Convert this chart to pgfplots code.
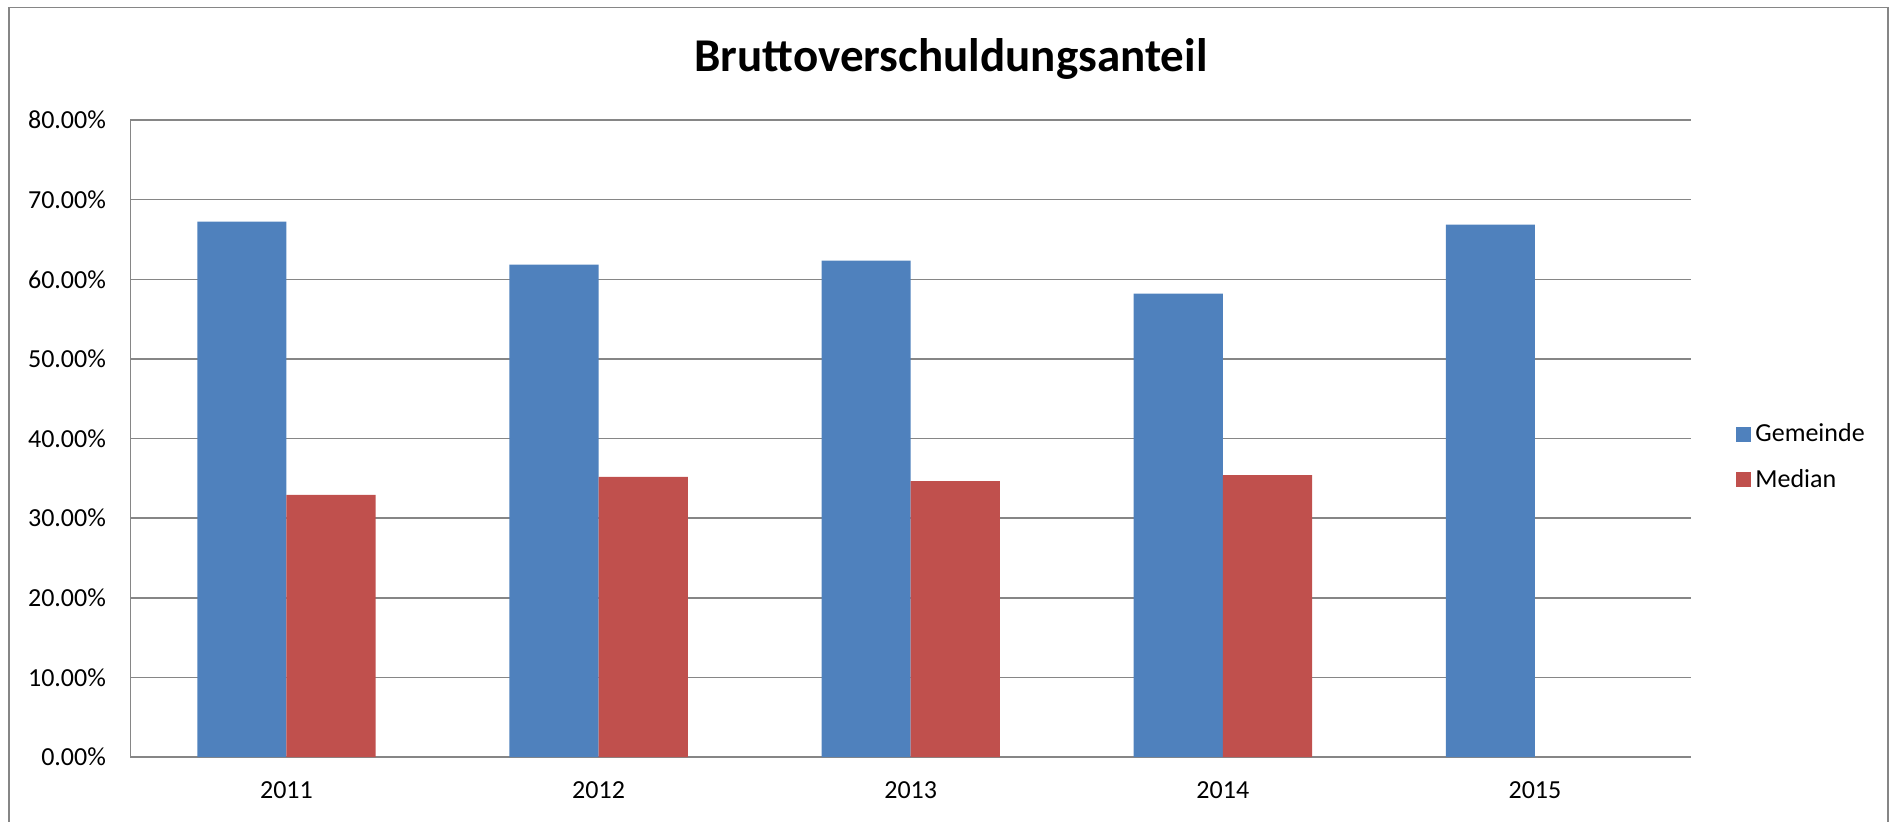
\documentclass[border=0pt]{standalone}
\usepackage{pgfplots}
\pgfplotsset{compat=1.18}
\usepackage{fontspec}
\setmainfont{Carlito}
\definecolor{gemblue}{HTML}{4F81BD}
\definecolor{medred}{HTML}{C0504D}
\definecolor{gridgray}{HTML}{868686}
\begin{document}
\begin{tikzpicture}
\path[use as bounding box] (0pt,0pt) rectangle (947pt,410.5pt);
\draw[gridgray, line width=0.65pt] (4.5pt,-5pt) -- (4.5pt,406.9pt) -- (944pt,406.9pt) -- (944pt,-5pt);
\node[anchor=base, font=\bfseries\fontsize{23.5}{28}\selectfont] at (475.5pt,374.6pt) {Bruttoverschuldungsanteil};
\begin{axis}[
  at={(65.2pt,32pt)}, anchor=south west,
  scale only axis, width=780.3pt, height=318.5pt,
  xmin=-0.5, xmax=4.5, ymin=0, ymax=80,
  axis x line*=bottom, axis y line*=left,
  axis line style={gridgray, line width=0.75pt, -},
  ymajorgrids, grid style={gridgray, line width=0.75pt},
  major tick length=0pt,
  xtick={0,1,2,3,4}, xticklabels={2011,2012,2013,2014,2015},
  ytick={0,10,...,80},
  yticklabels={0.00\%,10.00\%,20.00\%,30.00\%,40.00\%,50.00\%,60.00\%,70.00\%,80.00\%},
  ticklabel style={font=\fontsize{13}{15}\selectfont},
  xticklabel style={yshift=-8.7pt},
  yticklabel style={xshift=-8.7pt},
  /pgf/number format/assume math mode=true,
  ybar, bar width=0.2857,
  legend style={draw=none, fill=none, at={(1.025,0.471)}, anchor=west,
    font=\fontsize{13}{15}\selectfont, row sep=8pt,
    /tikz/every even column/.append style={column sep=2pt}},
  legend cell align=left,
  legend image code/.code={\fill[#1] (0pt,-3.75pt) rectangle (7.5pt,3.75pt);},
]
\addplot[fill=gemblue, draw=none, bar shift=-0.14286] coordinates {(0,67.23) (1,61.83) (2,62.33) (3,58.19) (4,66.85)};
\addlegendentry{Gemeinde}
\addplot[fill=medred, draw=none, bar shift=0.14286] coordinates {(0,32.92) (1,35.18) (2,34.64) (3,35.39)};
\addlegendentry{Median}
\end{axis}
\end{tikzpicture}
\end{document}
